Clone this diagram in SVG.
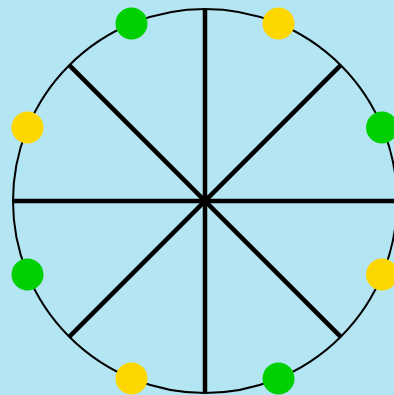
<svg xmlns="http://www.w3.org/2000/svg" width="394" height="395" viewBox="0 0 394 395">
<style>
.bg{fill:#b3e5f2}
.rim{fill:none;stroke:#000;stroke-width:2}
.spoke{stroke:#000;stroke-width:4.5;stroke-linecap:butt}
.g{fill:#00d000}
.y{fill:#ffd700}
</style>
<rect class="bg" x="0" y="0" width="394" height="395"/>
<g id="connectors">
<line class="spoke" x1="205" y1="9" x2="205" y2="393"/>
<line class="spoke" x1="13" y1="201" x2="397" y2="201"/>
<line class="spoke" x1="69.2" y1="65.2" x2="340.8" y2="336.8"/>
<line class="spoke" x1="340.8" y1="65.2" x2="69.2" y2="336.8"/>
</g>
<g id="rim"><circle class="rim" cx="205" cy="201" r="192"/></g>
<g id="dot1"><circle class="g" cx="131.5" cy="23.5" r="16"/></g>
<g id="dot2"><circle class="y" cx="278.5" cy="23.5" r="16"/></g>
<g id="dot3"><circle class="g" cx="382" cy="127.5" r="16"/></g>
<g id="dot4"><circle class="y" cx="382" cy="274.5" r="16"/></g>
<g id="dot5"><circle class="g" cx="278.5" cy="378.5" r="16"/></g>
<g id="dot6"><circle class="y" cx="131.5" cy="378.5" r="16"/></g>
<g id="dot7"><circle class="g" cx="27.5" cy="274.5" r="16"/></g>
<g id="dot8"><circle class="y" cx="27.5" cy="127.5" r="16"/></g>
</svg>
